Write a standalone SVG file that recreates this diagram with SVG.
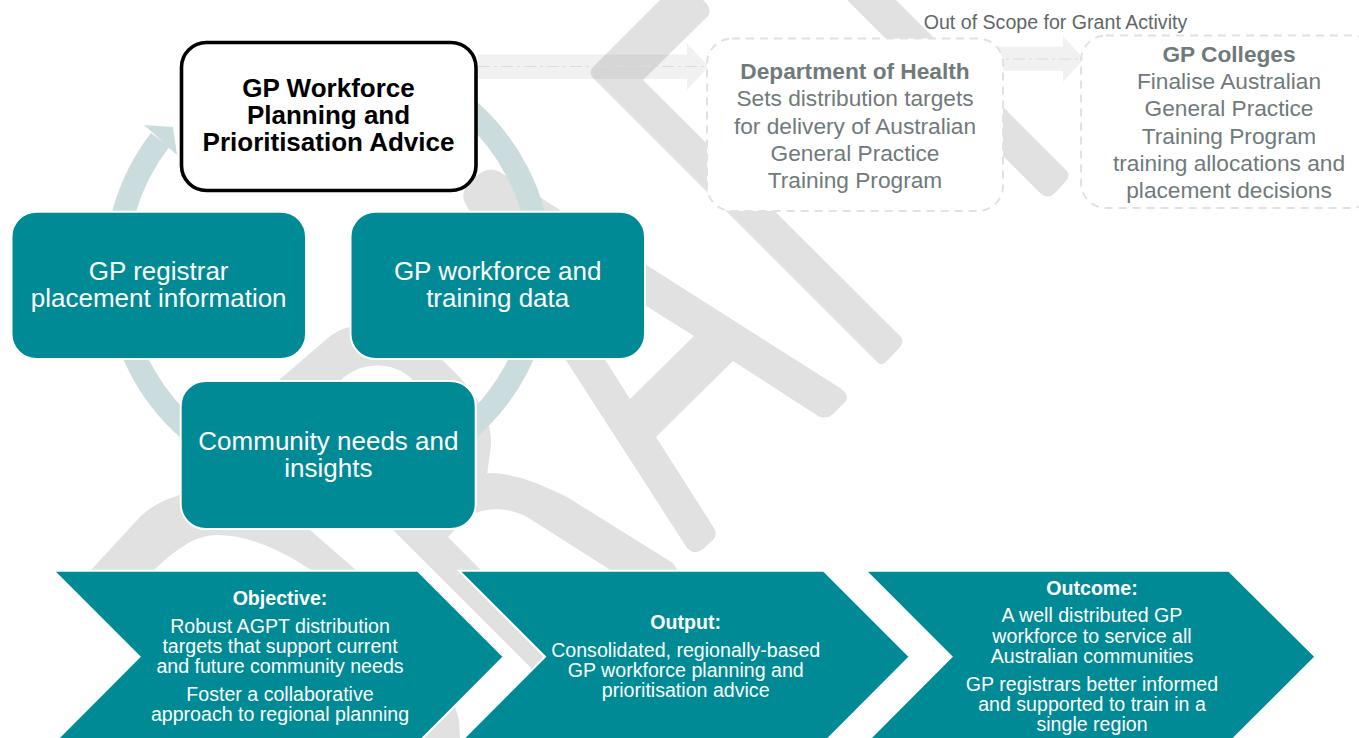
<svg xmlns="http://www.w3.org/2000/svg" width="1359" height="738" viewBox="0 0 1359 738">
<style>
text{font-family:"Liberation Sans",Arial,sans-serif;text-anchor:middle}
.wm{fill:#e1e1e1;fill-rule:evenodd}
.box{fill:#008a96;stroke:#fff;stroke-width:2}
.chev{fill:#008a96;stroke:#fff;stroke-width:2}
.big{font-size:26px;fill:#fff}
.small{font-size:19.6px;fill:#fff}
.sb{font-weight:700}
.oos{fill:#fff;stroke:#dfe2e2;stroke-width:2;stroke-dasharray:8 6}
.grey{font-size:22.7px;fill:#6f7a7b}
.flow{fill:#808080;fill-opacity:.11}
.mid{fill:none;stroke:#dadddd;stroke-width:1.2;stroke-dasharray:12 4 3 4}
</style>
<g id="watermark">
<path class="wm" d="M660 0L593 67Q588 72 593 78L877 362Q882 367 887 361L900 347Q905 340 900 336L643 80L708 16Q712 10 706 3L703 0Z"/>
<path class="wm" d="M847 0L1040 193Q1048 200 1055 193L1066 181Q1071 175 1066 170L896 0Z"/>
<path class="wm" d="M467 186Q485 163 500 172L840 388Q851 396 845 402L833 414Q826 420 818 416L733 361L656 437L714 528Q718 535 713 540L703 549Q695 556 687 548L466 205Q460 195 467 186ZM521 227L630 399L694 336Z"/>
<path class="wm" d="M240 420L279 380L328 338C355 315 400 325 442 360C470 385 493 415 491 445L487 475L460 510L430 430L413 380C395 362 365 360 343 378L300 430Z"/>
<path class="wm" d="M90 571L140 517C152 505 168 498 183 494L300 520L310 530L357 571L312 571C285 552 250 535 217 535C195 535 175 550 153 571Z"/>
<path class="wm" d="M470 475L490 473C505 473 530 478 567 497L673 563L678 571L612 571L527 517C510 508 490 506 470 515Z"/>
<path class="wm" d="M385 522L462 522L448 537L590 680L560 697Z"/>
<path class="wm" d="M440 700L455 706L459 720L460 738L420 738Z"/>
</g>
<g id="connectors">
<path d="M470 111A212.5 212.5 0 1 1 160 140" fill="none" stroke="#cbdcde" stroke-width="23"/>
<polygon points="152,132 144,125 173,127 177,155 168,147" fill="#cbdcde"/>
<polygon class="flow" points="478,54.5 687,54.5 687,43.5 709,66.5 687,90 687,79 478,79"/>
<line class="mid" x1="478" y1="66.5" x2="705" y2="66.5"/>
<polygon class="flow" points="990,46.7 1063,46.7 1063,36 1084,59 1063,81.7 1063,70.7 990,70.7"/>
<line class="mid" x1="990" y1="59" x2="1081" y2="59"/>
</g>
<g id="node-advice">
<rect x="181.500" y="42.500" width="294.500" height="148" rx="25" fill="#fff" stroke="#000" stroke-width="3.6"/>
<text class="big sb" x="328.500" y="96.700" style="fill:#000">GP Workforce</text>
<text class="big sb" x="328.500" y="123.700" style="fill:#000">Planning and</text>
<text class="big sb" x="328.500" y="150.700" style="fill:#000">Prioritisation Advice</text>
</g>
<g id="node-registrar">
<rect class="box" x="11.500" y="211.700" width="294.500" height="147.300" rx="25"/>
<text class="big" x="158.700" y="279.500">GP registrar</text>
<text class="big" x="158.700" y="306.500">placement information</text>
</g>
<g id="node-data">
<rect class="box" x="350.500" y="211.700" width="294.500" height="147.300" rx="25"/>
<text class="big" x="497.700" y="279.500">GP workforce and</text>
<text class="big" x="497.700" y="306.500">training data</text>
</g>
<g id="node-community">
<rect class="box" x="180.700" y="381" width="295" height="148" rx="25"/>
<text class="big" x="328.400" y="449.500">Community needs and</text>
<text class="big" x="328.400" y="476.500">insights</text>
</g>
<g id="node-department">
<rect class="oos" x="707" y="38.500" width="296" height="172.500" rx="25"/>
<text class="grey sb" x="855" y="78.700">Department of Health</text>
<text class="grey" x="855" y="106">Sets distribution targets</text>
<text class="grey" x="855" y="133.500">for delivery of Australian</text>
<text class="grey" x="855" y="160.700">General Practice</text>
<text class="grey" x="855" y="188">Training Program</text>
</g>
<g id="node-colleges">
<rect class="oos" x="1081" y="35.500" width="296" height="172.500" rx="25" style="fill:none"/>
<text class="grey sb" x="1229" y="62">GP Colleges</text>
<text class="grey" x="1229" y="88.700">Finalise Australian</text>
<text class="grey" x="1229" y="115.700">General Practice</text>
<text class="grey" x="1229" y="143.500">Training Program</text>
<text class="grey" x="1229" y="170.700">training allocations and</text>
<text class="grey" x="1229" y="197.700">placement decisions</text>
</g>
<text x="1055.500" y="28.500" font-size="19.6" fill="#5f6767">Out of Scope for Grant Activity</text>
<g id="node-objective">
<polygon class="chev" points="53.500,570.700 417.800,570.700 503.800,656.800 417.800,743 53.500,743 139.500,656.800"/>
<text class="small sb" x="280" y="605">Objective:</text>
<text class="small" x="280" y="632.700">Robust AGPT distribution</text>
<text class="small" x="280" y="652.700">targets that support current</text>
<text class="small" x="280" y="672.700">and future community needs</text>
<text class="small" x="280" y="700.700">Foster a collaborative</text>
<text class="small" x="280" y="720.700">approach to regional planning</text>
</g>
<g id="node-output">
<polygon class="chev" points="459,570.700 823.800,570.700 909.800,656.800 823.800,743 459,743 545,656.800"/>
<text class="small sb" x="685.700" y="628.700">Output:</text>
<text class="small" x="685.700" y="656.700">Consolidated, regionally-based</text>
<text class="small" x="685.700" y="676.700">GP workforce planning and</text>
<text class="small" x="685.700" y="696.700">prioritisation advice</text>
</g>
<g id="node-outcome">
<polygon class="chev" points="865.500,570.700 1229,570.700 1315.500,656.800 1229,743 865.500,743 951.500,656.800"/>
<text class="small sb" x="1092" y="595">Outcome:</text>
<text class="small" x="1092" y="622">A well distributed GP</text>
<text class="small" x="1092" y="642.700">workforce to service all</text>
<text class="small" x="1092" y="663">Australian communities</text>
<text class="small" x="1092" y="691">GP registrars better informed</text>
<text class="small" x="1092" y="711">and supported to train in a</text>
<text class="small" x="1092" y="730.700">single region</text>
</g>
</svg>
